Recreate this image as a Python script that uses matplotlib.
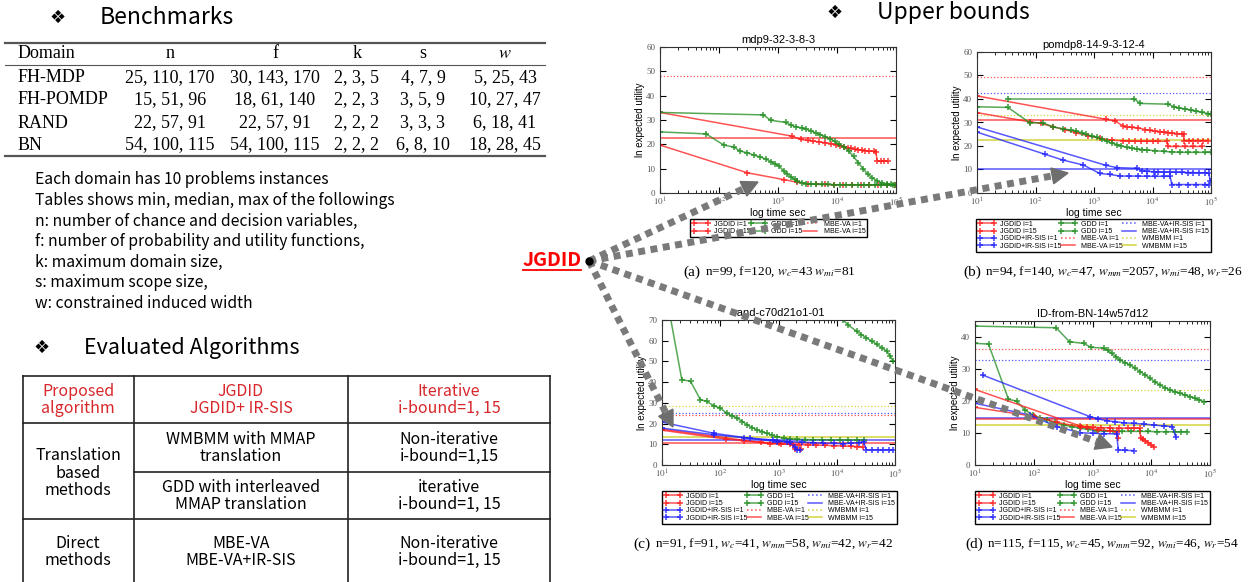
import numpy as np
import matplotlib.pyplot as plt
from matplotlib.lines import Line2D
from matplotlib.patches import Polygon

W, H = 1250, 582

plt.rcParams['mathtext.fontset'] = 'stix'
SANS = ['Noto Sans CJK KR', 'DejaVu Sans']
SERIF = 'Liberation Serif'
PSANS = 'Liberation Sans'

# ---- benchmark table ----
bench_header = ['Domain', 'n', 'f', 'k', 's', '$w$']
bench_domain = ['FH-MDP', 'FH-POMDP', 'RAND', 'BN']
bench_n = ['25, 110, 170', '15, 51, 96', '22, 57, 91', '54, 100, 115']
bench_f = ['30, 143, 170', '18, 61, 140', '22, 57, 91', '54, 100, 115']
bench_k = ['2, 3, 5', '2, 2, 3', '2, 2, 2', '2, 2, 2']
bench_s = ['4, 7, 9', '3, 5, 9', '3, 3, 3', '6, 8, 10']
bench_w = ['5, 25, 43', '10, 27, 47', '6, 18, 41', '18, 28, 45']

notes = [
    'Each domain has 10 problems instances',
    'Tables shows min, median, max of the followings',
    'n: number of chance and decision variables,',
    'f: number of probability and utility functions,',
    'k: maximum domain size,',
    's: maximum scope size,',
    'w: constrained induced width',
]

# ---- evaluated algorithms table ----
algo_groups = ['Proposed\nalgorithm', 'Translation\nbased\nmethods', 'Direct\nmethods']
algo_names = ['JGDID\nJGDID+ IR-SIS', 'WMBMM with MMAP\ntranslation',
              'GDD with interleaved\nMMAP translation', 'MBE-VA\nMBE-VA+IR-SIS']
algo_modes = ['Iterative\ni-bound=1, 15', 'Non-iterative\ni-bound=1,15',
              'iterative\ni-bound=1, 15', 'Non-iterative\ni-bound=1, 15']

# ---- panel (a) mdp9-32-3-8-3 (log10 time, ln expected utility) ----
a_jgdid1_lt = [1.0, 3.23, 3.39, 3.50, 3.60, 3.70, 3.80, 3.90, 3.98, 4.05, 4.12, 4.18,
               4.24, 4.30, 4.36, 4.42, 4.48, 4.55, 4.62, 4.66, 4.68, 4.74, 4.80, 4.86]
a_jgdid1_y = [33.1, 23.4, 22.0, 21.6, 21.3, 21.0, 20.7, 20.3, 19.9, 19.4, 19.0, 18.6,
              18.3, 18.0, 17.8, 17.6, 17.4, 17.2, 17.1, 17.0, 13.1, 13.1, 13.1, 13.1]
a_jgdid15_lt = [1.0, 2.48, 3.10, 3.33, 3.50, 3.65, 3.80, 3.95, 4.10, 4.25, 4.40, 4.55, 4.70, 4.85, 4.98]
a_jgdid15_y = [19.7, 8.3, 5.5, 4.4, 3.8, 3.6, 3.5, 3.4, 3.4, 3.4, 3.3, 3.3, 3.3, 3.3, 3.3]
a_gdd15_lt = [1.0, 2.75, 2.875, 3.13, 3.22, 3.30, 3.40, 3.48, 3.56, 3.64, 3.72, 3.80, 3.88,
              3.96, 4.04, 4.12, 4.20, 4.28, 4.36, 4.44, 4.52, 4.60, 4.68, 4.76, 4.84, 4.92, 4.98]
a_gdd15_y = [33.1, 32.1, 29.9, 29.0, 27.9, 27.2, 26.8, 26.2, 25.5, 24.7, 24.0, 23.2, 22.3,
             21.2, 20.0, 18.9, 17.2, 15.0, 12.5, 10.0, 7.8, 6.2, 5.0, 4.2, 3.7, 3.5, 3.4]
a_gdd1_lt = [1.0, 1.78, 2.08, 2.25, 2.36, 2.48, 2.59, 2.70, 2.80, 2.88, 2.95, 3.02, 3.10, 3.16,
             3.22, 3.28, 3.33, 3.40, 3.48, 3.56, 3.65, 3.75, 3.85, 3.95, 4.05, 4.15, 4.25, 4.35,
             4.45, 4.55, 4.65, 4.75, 4.85, 4.95]
a_gdd1_y = [25.1, 24.3, 19.7, 18.9, 17.2, 16.5, 15.6, 14.8, 13.9, 12.9, 12.0, 11.0, 9.0, 7.8,
            6.6, 5.6, 4.8, 4.3, 3.9, 3.7, 3.6, 3.5, 3.5, 3.4, 3.4, 3.4, 3.4, 3.4, 3.4, 3.4, 3.4,
            3.4, 3.4, 3.4]
a_mbe1, a_mbe15 = 48.0, 22.8

# ---- panel (b) pomdp8-14-9-3-12-4 ----
b_jgdid1_lt = [1.0, 3.2, 3.36, 3.50, 3.56, 3.65, 3.76, 3.88, 3.96, 4.04, 4.12, 4.19, 4.26,
               4.33, 4.42, 4.50, 4.53, 4.54, 4.62, 4.70, 4.78, 4.86, 4.95]
b_jgdid1_y = [41.3, 31.4, 30.6, 28.5, 28.1, 27.9, 27.6, 27.0, 26.6, 26.3, 26.1, 25.9, 25.7,
              25.5, 25.3, 25.1, 25.0, 22.3, 22.3, 22.3, 22.3, 22.3, 22.3]
b_jgdid15_lt = [1.0, 1.9, 2.1, 2.3, 2.5, 2.7, 2.9, 3.1, 3.3, 3.5, 3.6, 3.7, 3.8, 3.9, 4.0,
                4.1, 4.25, 4.26, 4.4, 4.55, 4.7, 4.85]
b_jgdid15_y = [34.2, 30.3, 29.6, 28.2, 27.0, 25.6, 24.3, 23.3, 22.5, 22.2, 22.1, 22.0, 22.0,
               22.0, 22.0, 22.0, 22.0, 19.8, 19.8, 19.8, 19.8, 19.8]
b_gdd15_lt = [1.53, 3.69, 3.79, 4.27, 4.36, 4.45, 4.55, 4.65, 4.75, 4.85, 4.95, 5.0]
b_gdd15_y = [40.0, 40.0, 38.1, 37.8, 36.7, 36.2, 35.8, 35.3, 34.8, 34.3, 33.8, 33.5]
b_gdd1_lt = [1.0, 1.53, 1.90, 2.13, 2.30, 2.47, 2.60, 2.70, 2.80, 2.87, 2.96, 3.05, 3.14, 3.22,
             3.30, 3.39, 3.47, 3.56, 3.65, 3.73, 3.82, 3.90, 4.05, 4.19, 4.33, 4.47, 4.6, 4.75,
             4.9, 5.0]
b_gdd1_y = [36.7, 36.4, 29.9, 29.8, 28.1, 27.3, 26.8, 26.3, 25.6, 24.9, 24.3, 23.7, 22.8, 22.0,
            21.3, 20.6, 20.0, 19.4, 19.0, 18.7, 18.5, 18.3, 18.0, 17.7, 17.5, 17.3, 17.3, 17.3,
            17.3, 17.3]
b_jgis1_lt = [1.0, 3.2, 3.39, 3.73, 3.82, 3.90, 4.02, 4.1, 4.2, 4.3, 4.4, 4.5, 4.6, 4.7, 4.8,
              4.9, 4.96, 4.99]
b_jgis1_y = [28.1, 11.8, 10.8, 10.5, 9.4, 9.2, 9.1, 9.0, 8.9, 8.9, 8.8, 8.8, 8.7, 8.7, 8.6,
             8.6, 8.6, 5.0]
b_jgis15_lt = [1.0, 2.16, 2.47, 2.82, 3.1, 3.27, 3.45, 3.6, 3.75, 3.9, 4.05, 4.2, 4.3, 4.33,
               4.45, 4.6, 4.75, 4.9, 4.96]
b_jgis15_y = [25.9, 16.5, 14.0, 11.9, 8.3, 7.9, 7.2, 7.2, 7.2, 7.1, 7.1, 7.1, 7.1, 3.6, 3.6,
              3.6, 3.6, 3.6, 3.6]
b_mbe1, b_mbe15 = 49.4, 31.2
b_mbeis1, b_mbeis15 = 42.4, 10.4
b_wmb1, b_wmb15 = 33.1, 22.6

# ---- panel (c) rand-c70d21o1-01 ----
c_gdd1_lt = [1.12, 1.34, 1.49, 1.66, 1.77, 1.89, 2.0, 2.11, 2.2, 2.29, 2.38, 2.46, 2.55, 2.63,
             2.72, 2.8, 2.88, 2.97, 3.09, 3.2, 3.31, 3.45, 3.6, 3.75, 3.9, 4.05, 4.2, 4.35, 4.46]
c_gdd1_y = [75.0, 41.2, 40.4, 31.5, 30.7, 28.6, 27.5, 25.0, 23.8, 22.6, 21.0, 19.4, 18.1, 17.0,
            16.1, 15.3, 14.5, 13.7, 12.9, 12.6, 12.4, 12.3, 12.2, 12.2, 12.1, 12.1, 12.1, 12.1, 12.1]
c_gdd15_lt = [3.9, 4.11, 4.2, 4.34, 4.42, 4.51, 4.6, 4.69, 4.78, 4.86, 4.92, 4.97]
c_gdd15_y = [76.0, 70.0, 67.5, 64.6, 63.0, 61.4, 59.8, 58.2, 56.5, 54.9, 52.5, 50.1]
c_jgis1_lt = [1.0, 1.89, 2.51, 2.97, 3.2, 3.4, 3.6, 3.77, 3.95, 4.1, 4.25, 4.38, 4.46, 4.51,
              4.6, 4.7, 4.8, 4.9, 4.97]
c_jgis1_y = [20.7, 15.3, 12.9, 11.3, 11.2, 11.0, 10.8, 10.5, 10.4, 10.3, 10.5, 10.8, 11.3, 7.3,
             7.3, 7.3, 7.3, 7.3, 7.3]
c_jgis15_lt = [1.0, 1.89, 2.4, 2.91, 3.14, 3.29, 3.31, 3.37]
c_jgis15_y = [17.8, 14.6, 13.2, 12.1, 11.3, 8.9, 7.3, 7.3]
c_jgdid1_lt = [1.0, 2.86, 3.05, 3.2, 3.35, 3.5, 3.65, 3.8, 3.95, 4.1, 4.25, 4.35, 4.45]
c_jgdid1_y = [17.3, 10.2, 10.1, 10.0, 9.8, 9.7, 9.6, 9.5, 9.3, 9.2, 9.0, 8.9, 8.6]
c_jgdid15_lt = [1.0, 2.1, 2.4, 2.7, 3.0, 3.25, 3.28, 3.38]
c_jgdid15_y = [16.8, 12.5, 11.7, 11.0, 10.4, 9.8, 7.5, 7.5]
c_mbe1, c_mbe15 = 23.9, 10.8
c_mbeis1, c_mbeis15 = 25.0, 12.1
c_wmb1, c_wmb15 = 28.3, 13.4

# ---- panel (d) ID-from-BN-14w57d12 ----
d_gdd15_lt = [1.0, 2.38, 2.61, 2.85, 2.97, 3.19, 3.26, 3.33, 3.40, 3.47, 3.55, 3.64, 3.72, 3.81,
              3.90, 3.98, 4.06, 4.15, 4.23, 4.32, 4.40, 4.49, 4.57, 4.66, 4.75, 4.82, 4.89]
d_gdd15_y = [43.4, 42.9, 38.5, 38.0, 36.8, 36.5, 35.8, 34.9, 33.8, 32.8, 32.0, 31.3, 30.3, 29.2,
             28.1, 27.1, 26.0, 25.0, 24.2, 23.4, 22.9, 22.4, 21.9, 21.4, 20.8, 20.3, 19.8]
d_gdd1_lt = [1.0, 1.23, 1.57, 1.71, 1.85, 1.99, 2.1, 2.22, 2.36, 2.51, 2.65, 2.79, 2.93, 3.07,
             3.2, 3.35, 3.5, 3.65, 3.8, 3.95, 4.1, 4.25, 4.4, 4.5, 4.61]
d_gdd1_y = [38.0, 37.8, 20.5, 20.0, 17.2, 15.6, 14.8, 14.1, 13.3, 12.5, 12.0, 11.5, 11.1, 10.7,
            10.6, 10.6, 10.5, 10.5, 10.5, 10.5, 10.4, 10.4, 10.4, 10.4, 10.4]
d_jgdid1_lt = [1.0, 2.79, 2.9, 3.0, 3.15, 3.3, 3.45, 3.6, 3.7, 3.8, 3.82, 3.86, 3.9, 3.95, 4.0, 4.05]
d_jgdid1_y = [23.6, 12.2, 12.0, 11.8, 11.7, 11.6, 11.5, 11.5, 11.5, 11.5, 8.3, 8.0, 7.6, 7.0, 6.3, 5.5]
d_jgdid15_lt = [1.0, 2.0, 2.4, 2.8, 3.1, 3.3, 3.41, 3.44]
d_jgdid15_y = [18.0, 15.2, 13.3, 11.9, 11.0, 10.7, 10.4, 8.3]
d_jgis1_lt = [1.13, 2.96, 3.1, 3.24, 3.38, 3.53, 3.7, 3.87, 4.04, 4.21, 4.36, 4.42]
d_jgis1_y = [28.1, 15.1, 14.4, 13.9, 13.5, 13.2, 13.0, 12.8, 12.5, 12.2, 12.0, 8.6]
d_jgis15_lt = [1.0, 1.94, 2.39, 2.79, 3.0, 3.2, 3.41, 3.44, 3.55, 3.70]
d_jgis15_y = [19.3, 15.6, 12.0, 10.1, 9.9, 9.8, 9.7, 4.7, 4.6, 4.5]
d_mbe1, d_mbe15 = 36.1, 14.4
d_mbeis1, d_mbeis15 = 32.8, 14.6
d_wmb1, d_wmb15 = 23.4, 12.4

RED, GREEN, BLUE, YEL = '#ff1a1a', '#1e8c1e', '#1f1fff', '#c4c400'
TXT_RED = '#d8262b'


def rect(l, t, r, b):
    return [l / W, 1 - b / H, (r - l) / W, (b - t) / H]


fig = plt.figure(figsize=(12.5, 5.82), dpi=100)
ov = fig.add_axes([0, 0, 1, 1], zorder=10)
ov.set_xlim(0, W)
ov.set_ylim(H, 0)
ov.axis('off')


def heading(x, y, s, size=16.5):
    ov.text(x, y, '\u2756', fontsize=13, family='DejaVu Sans', ha='center', va='center')
    ov.text(x + 42, y, s, fontsize=size, family=SANS, va='center')


heading(58, 18, 'Benchmarks')
heading(42, 348, 'Evaluated Algorithms', 15.5)
heading(835, 13, 'Upper bounds')

# benchmark table
for y, lw in [(43, 1.6), (65, 0.8), (156, 1.6)]:
    ov.plot([5, 545], [y, y], color='#555555', lw=lw)
col_x = [18, 170, 275, 357, 423, 505]
row_y = [78, 100, 123, 145]
cols = [bench_domain, bench_n, bench_f, bench_k, bench_s, bench_w]
for j, (cx, head) in enumerate(zip(col_x, bench_header)):
    ha = 'left' if j == 0 else 'center'
    ov.text(cx, 54, head, family=SERIF, fontsize=13, ha=ha, va='center')
    for ry, val in zip(row_y, cols[j]):
        ov.text(cx, ry, val, family=SERIF, fontsize=13, ha=ha, va='center')

for i, line in enumerate(notes):
    ov.text(35, 180 + i * 20.5, line, family=SANS, fontsize=11.3, va='center')

# algorithms table
tx = [23, 134, 348, 550]
for y, x0 in [(376, 23), (423, 23), (472, 134), (519, 23)]:
    ov.plot([x0, 550], [y, y], color='#222222', lw=1.2)
for x in tx:
    ov.plot([x, x], [376, 600], color='#222222', lw=1.2)
group_y = [400, 473, 552]
for g, gy in zip(algo_groups, group_y):
    ov.text(78, gy, g, family=SANS, fontsize=11.5, ha='center', va='center', linespacing=1.05,
            color=TXT_RED if gy == group_y[0] else 'black')
row_c = [400, 448, 496, 552]
for i, (nm, md, ry) in enumerate(zip(algo_names, algo_modes, row_c)):
    c = TXT_RED if i == 0 else 'black'
    ov.text(241, ry, nm, family=SANS, fontsize=11.5, ha='center', va='center', linespacing=1.05, color=c)
    ov.text(449, ry, md, family=SANS, fontsize=11.5, ha='center', va='center', linespacing=1.05, color=c)

# JGDID label, dot and dotted arrows
ov.text(552, 260, 'JGDID', family=SANS, fontsize=14, fontweight='bold', color='#ff0000',
        ha='center', va='center')
ov.plot([523, 581], [270, 270], color='#ff0000', lw=1.3)
src = np.array([589.0, 261.0])
for tgt in [(758, 182), (1068, 173), (673, 427), (1112, 447)]:
    tgt = np.array(tgt, dtype=float)
    d = (tgt - src) / np.linalg.norm(tgt - src)
    nrm = np.array([-d[1], d[0]])
    base = tgt - d * 16
    ov.plot([src[0], base[0]], [src[1], base[1]], color='#7a7a7a', lw=5,
            linestyle=(0, (1.0, 0.8)), solid_capstyle='butt', dash_capstyle='butt')
    ov.add_patch(Polygon([tgt, base + nrm * 8, base - nrm * 8], closed=True, color='#6e6e6e'))
ov.plot([src[0]], [src[1]], 'o', color='black', ms=5)


# plot panels
def series(ax, lt, y, color):
    ax.plot(10 ** np.asarray(lt), y, color=color, marker='+', ms=4, mew=1.3, lw=1.1, alpha=0.75)


def hline(ax, v, color, ls):
    ax.axhline(v, color=color, ls=ls, lw=1.1 if ls == '-' else 0.9, alpha=0.75)


def style(ax, title, ymax, yticks):
    ax.set_xscale('log')
    ax.set_xlim(10, 1e5)
    ax.set_ylim(0, ymax)
    ax.set_xticks([1e1, 1e2, 1e3, 1e4, 1e5], ['$10^{%d}$' % k for k in range(1, 6)])
    ax.set_yticks(yticks, [str(v) for v in yticks], family=SERIF)
    ax.tick_params(which='both', direction='in', top=True, right=True, labelsize=6.5,
                   labelcolor='#555555')
    ax.tick_params(axis='x', pad=2)
    ax.tick_params(axis='y', pad=3.5)
    ax.tick_params(which='major', length=4)
    ax.tick_params(which='minor', length=2)
    ax.set_title(title, family=PSANS, fontsize=8, pad=3)
    ax.set_xlabel('log time sec', family=PSANS, fontsize=7.5, labelpad=0)
    ax.set_ylabel('ln expected utility', family=PSANS, fontsize=7, labelpad=1)
    for s in ax.spines.values():
        s.set_color('#333333')
        s.set_linewidth(0.8)


def jg_handle(color):
    return Line2D([], [], color=color, marker='+', ms=4, mew=1.3, lw=1.1, alpha=0.75)


def ln_handle(color, ls):
    return Line2D([], [], color=color, ls=ls, lw=1.1, alpha=0.75)


def legend(ax, l, t, r, b, handles, labels):
    ax.legend(handles, labels, ncol=3, loc='upper left', mode='expand',
              bbox_to_anchor=(l / W, 1 - b / H, (r - l) / W, (b - t) / H),
              bbox_transform=fig.transFigure, prop={'family': PSANS, 'size': 5},
              numpoints=2, handlelength=2.6, labelspacing=0.05, borderpad=0.25,
              columnspacing=0.8, handletextpad=0.6, fancybox=False, framealpha=1,
              edgecolor='black', borderaxespad=0)


full_labels = ['JGDID i=1', 'JGDID i=15', 'JGDID+IR-SIS i=1', 'JGDID+IR-SIS i=15',
               'GDD i=1', 'GDD i=15', 'MBE-VA i=1', 'MBE-VA i=15',
               'MBE-VA+IR-SIS i=1', 'MBE-VA+IR-SIS i=15', 'WMBMM i=1', 'WMBMM i=15']
full_handles = [jg_handle(RED), jg_handle(RED), jg_handle(BLUE), jg_handle(BLUE),
                jg_handle(GREEN), jg_handle(GREEN), ln_handle(RED, ':'), ln_handle(RED, '-'),
                ln_handle(BLUE, ':'), ln_handle(BLUE, '-'), ln_handle(YEL, ':'), ln_handle(YEL, '-')]

# (a)
ax = fig.add_axes(rect(660, 47, 896, 193))
hline(ax, a_mbe1, RED, ':')
hline(ax, a_mbe15, RED, '-')
series(ax, a_jgdid1_lt, a_jgdid1_y, RED)
series(ax, a_jgdid15_lt, a_jgdid15_y, RED)
series(ax, a_gdd15_lt, a_gdd15_y, GREEN)
series(ax, a_gdd1_lt, a_gdd1_y, GREEN)
style(ax, 'mdp9-32-3-8-3', 60, [0, 10, 20, 30, 40, 50, 60])
legend(ax, 690, 219, 867, 235,
       [jg_handle(RED), jg_handle(RED), jg_handle(GREEN), jg_handle(GREEN),
        ln_handle(RED, ':'), ln_handle(RED, '-')],
       ['JGDID i=1', 'JGDID i=15', 'GDD i=1', 'GDD i=15', 'MBE-VA i=1', 'MBE-VA i=15'])

# (b)
ax = fig.add_axes(rect(977, 52, 1211, 193))
hline(ax, b_mbe1, RED, ':')
hline(ax, b_mbeis1, BLUE, ':')
hline(ax, b_wmb1, YEL, ':')
hline(ax, b_mbe15, RED, '-')
hline(ax, b_wmb15, YEL, '-')
hline(ax, b_mbeis15, BLUE, '-')
series(ax, b_jgdid1_lt, b_jgdid1_y, RED)
series(ax, b_jgdid15_lt, b_jgdid15_y, RED)
series(ax, b_gdd15_lt, b_gdd15_y, GREEN)
series(ax, b_gdd1_lt, b_gdd1_y, GREEN)
series(ax, b_jgis1_lt, b_jgis1_y, BLUE)
series(ax, b_jgis15_lt, b_jgis15_y, BLUE)
style(ax, 'pomdp8-14-9-3-12-4', 60, [0, 10, 20, 30, 40, 50, 60])
legend(ax, 976, 219, 1211, 251, full_handles, full_labels)

# (c)
ax = fig.add_axes(rect(662, 320, 895, 465))
hline(ax, c_wmb1, YEL, ':')
hline(ax, c_mbeis1, BLUE, ':')
hline(ax, c_mbe1, RED, ':')
hline(ax, c_wmb15, YEL, '-')
hline(ax, c_mbeis15, BLUE, '-')
hline(ax, c_mbe15, RED, '-')
series(ax, c_gdd1_lt, c_gdd1_y, GREEN)
series(ax, c_gdd15_lt, c_gdd15_y, GREEN)
series(ax, c_jgdid1_lt, c_jgdid1_y, RED)
series(ax, c_jgdid15_lt, c_jgdid15_y, RED)
series(ax, c_jgis1_lt, c_jgis1_y, BLUE)
series(ax, c_jgis15_lt, c_jgis15_y, BLUE)
style(ax, 'rand-c70d21o1-01', 70, [0, 10, 20, 30, 40, 50, 60, 70])
legend(ax, 662, 491, 897, 524, full_handles, full_labels)

# (d)
ax = fig.add_axes(rect(975, 321, 1210, 465))
hline(ax, d_mbe1, RED, ':')
hline(ax, d_mbeis1, BLUE, ':')
hline(ax, d_wmb1, YEL, ':')
hline(ax, d_mbeis15, BLUE, '-')
hline(ax, d_mbe15, RED, '-')
hline(ax, d_wmb15, YEL, '-')
series(ax, d_gdd15_lt, d_gdd15_y, GREEN)
series(ax, d_gdd1_lt, d_gdd1_y, GREEN)
series(ax, d_jgdid1_lt, d_jgdid1_y, RED)
series(ax, d_jgdid15_lt, d_jgdid15_y, RED)
series(ax, d_jgis1_lt, d_jgis1_y, BLUE)
series(ax, d_jgis15_lt, d_jgis15_y, BLUE)
style(ax, 'ID-from-BN-14w57d12', 45, [0, 10, 20, 30, 40])
legend(ax, 975, 491, 1210, 524, full_handles, full_labels)

# captions
captions = [
    (683, 272, '(a)', 'n=99, f=120, $w_c$=43 $w_{mi}$=81'),
    (963, 272, '(b)', 'n=94, f=140, $w_c$=47, $w_{mm}$=2057, $w_{mi}$=48, $w_r$=26'),
    (633, 544, '(c)', 'n=91, f=91, $w_c$=41, $w_{mm}$=58, $w_{mi}$=42, $w_r$=42'),
    (965, 544, '(d)', 'n=115, f=115, $w_c$=45, $w_{mm}$=92, $w_{mi}$=46, $w_r$=54'),
]
for x, y, tag, body in captions:
    ov.text(x, y, tag, family=SERIF, fontsize=11, va='center')
    ov.text(x + 22, y, body, family=SERIF, fontsize=9.5, va='center')

fig.savefig('out.png', dpi=100)
